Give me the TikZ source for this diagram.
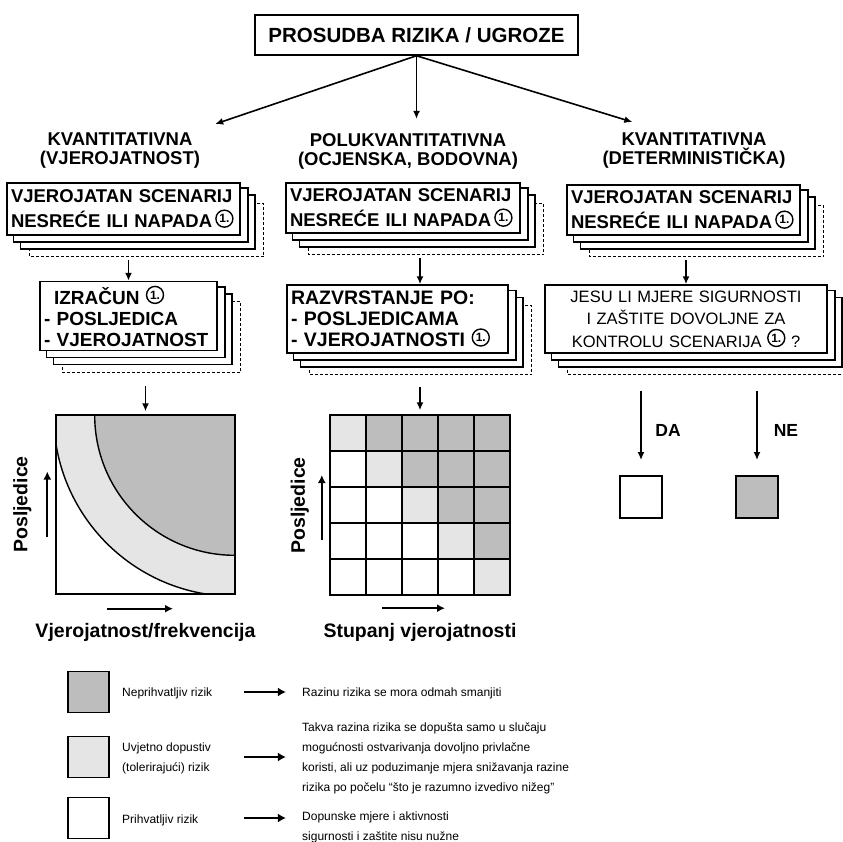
\documentclass[tikz,border=0pt]{standalone}
\usepackage{fontspec}
\setmainfont{Liberation Sans}
\usetikzlibrary{arrows.meta,positioning,backgrounds}

\definecolor{riskdark}{gray}{0.74}
\definecolor{risklight}{gray}{0.9}

% circled "1."
\newcommand{\jedan}{\tikz[baseline=(j.south)]\node[circle,draw,line width=1.4pt,inner sep=0pt,text width={},minimum size=17pt,font=\fontsize{12}{12}\selectfont\bfseries](j){1.};}

% sheets of paper behind a box
\newcommand{\slojevi}[1]{%
  \begin{pgfonlayer}{background}
    \draw[papir,densely dashed,line width=1pt] ([shift={(23,21)}]#1.north west) rectangle ([shift={(23,21)}]#1.south east);
    \foreach \d/\e in {14/13,7/6}{\draw[papir] ([shift={(\d,\e)}]#1.north west) rectangle ([shift={(\d,\e)}]#1.south east);}
  \end{pgfonlayer}}

\begin{document}
\begin{tikzpicture}[
  x=1pt,y=-1pt,
  naslov/.style={draw, line width=1.5pt, fill=white, minimum width=323pt, minimum height=40pt, font=\fontsize{20.5}{24}\selectfont\bfseries},
  metoda/.style={align=center, inner sep=2pt, font=\fontsize{18.5}{19}\selectfont\bfseries},
  kutija/.style={draw, line width=1.5pt, fill=white, align=left, inner xsep=4pt, inner ysep=2pt, font=\fontsize{18.5}{25}\selectfont\bfseries},
  papir/.style={draw, line width=1.5pt, fill=white},
  arr/.style={-{Latex[length=8pt,width=7pt]}, line width=1.6pt},
  osarr/.style={-{Latex[length=8pt,width=8pt]}, line width=2.2pt},
  legarr/.style={-{Latex[length=8pt,width=9pt]}, line width=2.8pt},
  os/.style={font=\fontsize{19.5}{20}\selectfont\bfseries},
  okvir/.style={draw, line width=1.8pt},
  polje/.style={draw, line width=2pt},
  krivulja/.style={draw, line width=1.4pt},
  odg/.style={font=\fontsize{17.5}{18}\selectfont\bfseries},
  leg/.style={draw, line width=1.8pt, minimum size=41pt, inner sep=0pt},
  legtxt/.style={anchor=west, align=left, inner sep=0pt, font=\fontsize{12}{20}\selectfont}
]
\useasboundingbox (0,0) rectangle (842,842);

\node[naslov] (top) at (416.5,35) {PROSUDBA RIZIKA / UGROZE};
\node[metoda] (head1) at (120,151) {KVANTITATIVNA\\(VJEROJATNOST)};
\node[metoda] (head2) at (408,151) {POLUKVANTITATIVNA\\(OCJENSKA, BODOVNA)};
\node[metoda] (head3) at (694,151) {KVANTITATIVNA\\(DETERMINISTIČKA)};

\node[kutija, text width=225pt, minimum height=52pt] (scen1) at (123.5,209) {VJEROJATAN SCENARIJ\\NESREĆE ILI NAPADA\,\jedan};
\node[kutija, text width=226pt, minimum height=50pt] (scen2) at (403,208) {VJEROJATAN SCENARIJ\\NESREĆE ILI NAPADA\,\jedan};
\node[kutija, text width=225pt, minimum height=50pt] (scen3) at (683.5,210) {VJEROJATAN SCENARIJ\\NESREĆE ILI NAPADA\,\jedan};

\node[kutija, font=\fontsize{19}{21}\selectfont\bfseries, text width=169pt, minimum height=69pt] (calc1) at (128.5,316) {\hspace*{10pt}IZRAČUN \jedan\\- POSLJEDICA\\- VJEROJATNOST};
\node[kutija, font=\fontsize{19.5}{21}\selectfont\bfseries, text width=213pt, minimum height=68pt] (calc2) at (397.5,319) {RAZVRSTANJE PO:\\- POSLJEDICAMA\\- VJEROJATNOSTI \jedan};
\node[kutija, align=center, font=\fontsize{16.5}{22.5}\selectfont, text width=274pt, minimum height=68pt] (calc3) at (686,319) {JESU LI MJERE SIGURNOSTI\\I ZAŠTITE DOVOLJNE ZA\\KONTROLU SCENARIJA \jedan\ ?};

\draw[arr] (top.south) -- ([shift={(13,-7)}]head1.north east);
\draw[arr, shorten >=12pt] (top.south) -- (top.south |- head2.north);
\draw[arr] (top.south) -- ([shift={(32,-9)}]head3.north west);

% risk curves
\node[minimum size=178pt, inner sep=0pt] (graf) at (145.5,504.5) {};
\begin{scope}
  \clip (graf.south west) rectangle (graf.north east);
  \fill[risklight] (graf.north east) circle[radius=181pt];
  \fill[riskdark] (graf.north east) circle[radius=140pt];
  \draw[krivulja] (graf.north east) circle[radius=181pt] (graf.north east) circle[radius=140pt];
\end{scope}
\draw[okvir] (graf.south west) rectangle (graf.north east);

% risk matrix
\node[minimum size=180pt, inner sep=0pt] (mat) at (420,505.5) {};
\foreach \r in {0,...,4}{
  \foreach \c in {0,...,4}{
    \ifnum\c=\r \def\boja{risklight}\else\ifnum\c>\r \def\boja{riskdark}\else\def\boja{white}\fi\fi
    \draw[polje, fill=\boja] ([shift={(\c*36,\r*36)}]mat.north west) rectangle ++(36,36);
  }
}

\draw[arr] ([yshift=-24pt]scen1.south -| calc1.north) -- (calc1.north);
\draw[arr] ([yshift=-24pt]scen2.south -| mat.north) -- (mat.north |- calc2.north);
\draw[arr] ([yshift=-24pt]scen3.south -| calc3.north) -- (calc3.north);
\draw[arr, shorten >=4pt] ([yshift=-35pt]calc1.south -| graf.north) -- (graf.north);
\draw[arr, shorten >=5pt] ([yshift=-33pt]calc2.south -| mat.north) -- (mat.north);

\draw[osarr] ([shift={(-9,32)}]graf.west) -- ([shift={(-9,-33)}]graf.west);
\draw[osarr] ([shift={(-38.5,15)}]graf.south) -- ([shift={(27.5,15)}]graf.south);
\node[os, rotate=90] (pos1) at ([xshift=-34pt]graf.west) {Posljedice};
\node[os] (vjer1) at ([yshift=-39pt]graf.south) {Vjerojatnost/frekvencija};
\draw[osarr] ([shift={(-8,34.5)}]mat.west) -- ([shift={(-8,-30.5)}]mat.west);
\draw[osarr] ([shift={(-38,12.5)}]mat.south) -- ([shift={(25,12.5)}]mat.south);
\node[os, rotate=90] (pos2) at ([xshift=-30pt]mat.west) {Posljedice};
\node[os] (vjer2) at ([yshift=-37pt]mat.south) {Stupanj vjerojatnosti};

% DA / NE
\node[leg, minimum size=42pt, fill=white] (da) at (641,497) {};
\node[leg, minimum size=42pt, fill=riskdark] (ne) at (757,497) {};
\draw[arr, shorten >=15pt] ([yshift=-37pt]calc3.south -| da.north) -- (da.north);
\draw[arr, shorten >=15pt] ([yshift=-37pt]calc3.south -| ne.north) -- (ne.north);
\node[odg] (lda) at (668,430) {DA};
\node[odg] (lne) at (786,430) {NE};

% legend
\node[leg, fill=riskdark] (leg1) at (88.5,692) {};
\node[leg, fill=risklight] (leg2) at (88.5,757) {};
\node[leg, fill=white] (leg3) at (88.5,818) {};
\node[legtxt] (lab1) at (122,693) {Neprihvatljiv rizik};
\node[legtxt] (lab2) at (122,758) {Uvjetno dopustiv\\(tolerirajući) rizik};
\node[legtxt] (lab3) at (122,820) {Prihvatljiv rizik};
\node[legtxt] (desc1) at (302,693) {Razinu rizika se mora odmah smanjiti};
\node[legtxt] (desc2) at (302,758) {Takva razina rizika se dopušta samo u slučaju\\mogućnosti ostvarivanja dovoljno privlačne\\koristi, ali uz poduzimanje mjera snižavanja razine\\rizika po počelu “što je razumno izvedivo nižeg”};
\node[legtxt] (desc3) at (302,827) {Dopunske mjere i aktivnosti\\sigurnosti i zaštite nisu nužne};
\foreach \n in {leg1,leg2,leg3}{\draw[legarr] ([xshift=134pt]\n.east) -- ([xshift=176pt]\n.east);}

\foreach \n in {scen1,scen2,scen3,calc1,calc2,calc3}{\slojevi{\n}}
\end{tikzpicture}
\end{document}
